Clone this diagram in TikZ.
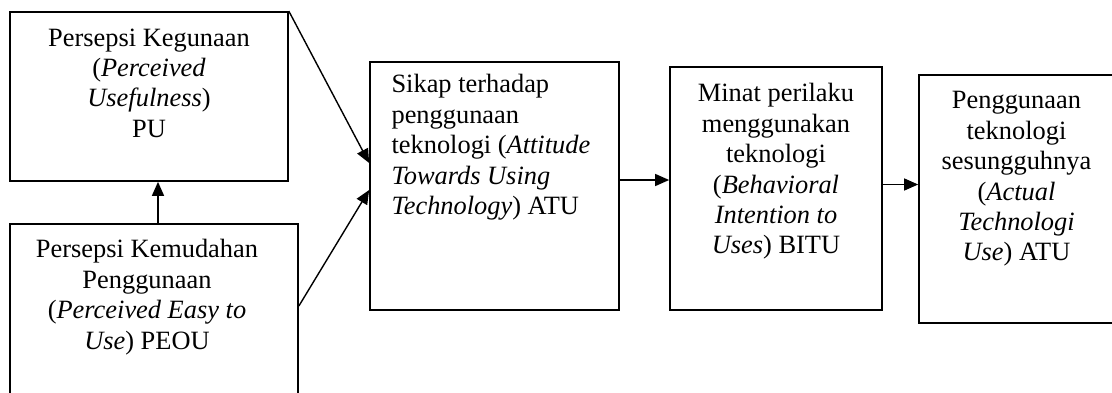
\documentclass[tikz,border=0pt]{standalone}
\usepackage{fontspec}
\setmainfont{Liberation Serif}
\usepackage{tikz}
\usetikzlibrary{arrows.meta,positioning,fit,calc}

\begin{document}
\begin{tikzpicture}[
  x=0.5pt, y=-0.5pt,
  box/.style={draw, line width=0.85pt, inner sep=0pt},
  txt/.style={inner sep=0pt, font=\fontsize{13.2}{15.2}\selectfont, align=center},
  arr/.style={-{Triangle[length=7pt, width=6pt]}, line width=0.7pt},
]
\useasboundingbox (0,0) rectangle (1112,392);

% Boxes
\node[box, fit={(10,12) (288,181)}] (pu) {};
\node[box, fit={(10,224) (298,398)}] (peou) {};
\node[box, fit={(370,62) (619,310)}] (atu) {};
\node[box, fit={(670,67) (882,310)}] (bitu) {};
\node[box, fit={(919,75) (1118,323)}] (actual) {};

% Texts
\node[txt, anchor=north] (pu-txt) at ([yshift=-8.5pt]pu.north)
  {Persepsi Kegunaan\\(\textit{Perceived}\\\textit{Usefulness})\\PU};
\node[txt, anchor=north] (peou-txt) at ([xshift=-3.5pt, yshift=-8pt]peou.north)
  {Persepsi Kemudahan\\Penggunaan\\(\textit{Perceived Easy to}\\\textit{Use}) PEOU};
\node[txt, anchor=north west, align=left] (atu-txt) at ([xshift=11pt, yshift=-6.5pt]atu.north west)
  {Sikap terhadap\\penggunaan\\teknologi (\textit{Attitude}\\\textit{Towards Using}\\\textit{Technology}) ATU};
\node[txt, anchor=north] (bitu-txt) at ([yshift=-8.5pt]bitu.north)
  {Minat perilaku\\menggunakan\\teknologi\\(\textit{Behavioral}\\\textit{Intention to}\\\textit{Uses}) BITU};
\node[txt, anchor=north] (actual-txt) at ([xshift=-1pt, yshift=-8.5pt]actual.north)
  {Penggunaan\\teknologi\\sesungguhnya\\(\textit{Actual}\\\textit{Technologi}\\\textit{Use}) ATU};

% Arrows
\draw[arr] (pu.north east) -- ([yshift=11.5pt]atu.west);
\draw[arr] ([yshift=2.5pt]peou.east) -- ([yshift=-2pt]atu.west);
\draw[arr] ([xshift=2pt]peou.north) -- ([xshift=2pt]peou.north |- pu.south);
\draw[arr] ([yshift=3pt]atu.east) -- ([yshift=3pt]atu.east -| bitu.west);
\draw[arr] ([yshift=2pt]bitu.east) -- ([yshift=2pt]bitu.east -| actual.west);

\end{tikzpicture}
\end{document}
